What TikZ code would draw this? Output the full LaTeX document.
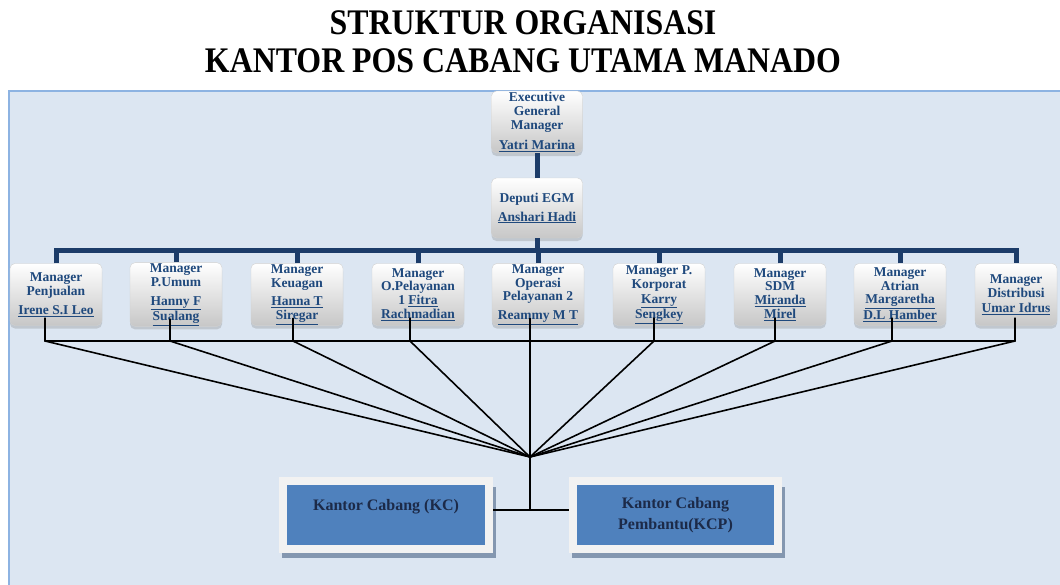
\documentclass[tikz,border=0pt]{standalone}
\usepackage{graphicx}
\usepackage{fontspec}
\setmainfont{Liberation Serif}
\usetikzlibrary{shadows}

\definecolor{panelfill}{RGB}{220,230,242}
\definecolor{panelline}{RGB}{141,179,226}
\definecolor{barnavy}{RGB}{28,60,105}
\definecolor{mgrblue}{RGB}{31,73,125}
\definecolor{kcblue}{RGB}{79,129,189}
\definecolor{kcframe}{RGB}{242,242,242}
\definecolor{kcshadow}{RGB}{132,151,176}
\definecolor{kctext}{RGB}{28,42,72}

\tikzset{
  mgrbox/.style={rounded corners=5pt, draw=black!18, top color=white,
    bottom color=black!22, text=mgrblue, align=center, inner sep=1pt,
    minimum width=92pt, minimum height=62pt,
    font=\bfseries\fontsize{13.5}{13.8}\selectfont,
    drop shadow={shadow xshift=0pt, shadow yshift=-3pt, opacity=0.3}},
  kcbox/.style={fill=kcblue, draw=kcframe, line width=8pt, text=kctext,
    align=center, minimum height=68pt,
    font=\bfseries\fontsize{16}{21}\selectfont,
    drop shadow={shadow xshift=3pt, shadow yshift=-7.5pt, shadow scale=1.04,
      fill=kcshadow, opacity=1}},
  navyline/.style={draw=barnavy, line width=5pt},
  wire/.style={draw=black, line width=1.6pt}
}

\begin{document}
\begin{tikzpicture}[x=1pt,y=-1pt]

  \newcommand\RowY{294.5}
  \newcommand\NameGap{5pt}

  \useasboundingbox (0,0) rectangle (1060,584);

  %% panel
  \fill[panelfill] (9,91) rectangle (1070,590);
  \draw[panelline, line width=1.5pt] (9,590) -- (9,91) -- (1070,91);

  %% title
  \node[anchor=base, font=\bfseries\fontsize{36}{40}\selectfont] (judul)
  at (523,34) {\scalebox{0.885}[1]{STRUKTUR ORGANISASI}};
  \node[anchor=base, font=\bfseries\fontsize{36}{40}\selectfont] (kantor)
  at (523,72) {\scalebox{0.885}[1]{KANTOR POS CABANG UTAMA MANADO}};

  %% top
  \node[mgrbox, minimum width=91pt] (egm) at (537,122)
  {Executive\\General\\Manager\\[6pt]\underline{Yatri Marina}};
  \node[mgrbox, minimum width=91pt, minimum height=60pt] (dep) at (537,208)
  {Deputi EGM\\[\NameGap]\underline{Anshari Hadi}};

  %% managers
  \node[mgrbox] (m1) at (56,\RowY)
  {Manager\\Penjualan\\[\NameGap]\underline{Irene S.I Leo}};
  \node[mgrbox] (m2) at (176,\RowY)
  {Manager\\P.Umum\\[\NameGap]\underline{Hanny F}\\\underline{Sualang}};
  \node[mgrbox] (m3) at (297,\RowY)
  {Manager\\Keuagan\\[\NameGap]\underline{Hanna T}\\\underline{Siregar}};
  \node[mgrbox] (m4) at (418,\RowY)
  {Manager\\O.Pelayanan\\1 \underline{Fitra}\\\underline{Rachmadian}};
  \node[mgrbox] (m5) at (538,\RowY)
  {Manager\\Operasi\\Pelayanan 2\\[\NameGap]\underline{Reammy M T}};
  \node[mgrbox] (m6) at (659,\RowY)
  {Manager P.\\Korporat\\[1pt]\underline{Karry}\\\underline{Sengkey}};
  \node[mgrbox] (m7) at (780,\RowY)
  {Manager\\SDM\\\underline{Miranda}\\\underline{Mirel}};
  \node[mgrbox] (m8) at (900,\RowY)
  {Manager\\Atrian\\\underline{Margaretha}\\\underline{D.L Hamber}};
  \node[mgrbox, minimum width=82pt] (m9) at (1016,\RowY)
  {Manager\\Distribusi\\[1pt]\underline{Umar Idrus}};

  %% navy tree
  \coordinate (bar) at (537,250);
  \draw[navyline] (egm.south) -- (dep.north);
  \draw[navyline] (dep.south) -- (bar);
  \draw[navyline] (m1.north) |- (bar) -| (m9.north);
  \draw[navyline] (m2.north) -- (m2.north |- bar);
  \draw[navyline] (m3.north) -- (m3.north |- bar);
  \draw[navyline] (m4.north) -- (m4.north |- bar);
  \draw[navyline] (m5.north) -- (m5.north |- bar);
  \draw[navyline] (m6.north) -- (m6.north |- bar);
  \draw[navyline] (m7.north) -- (m7.north |- bar);
  \draw[navyline] (m8.north) -- (m8.north |- bar);

  %% offices
  \node[kcbox, minimum width=206pt] (kc) at (386,515)
  {Kantor Cabang (KC)\\\mbox{}};
  \node[kcbox, minimum width=205pt] (kcp) at (675.5,515)
  {Kantor Cabang\\Pembantu(KCP)};

  %% black wires
  \coordinate (hub) at (530,457);
  \coordinate (tee) at (530,510);
  \coordinate (k1) at (45,341);
  \coordinate (k2) at (170,341);
  \coordinate (k3) at (293,341);
  \coordinate (k4) at (410,341);
  \coordinate (k5) at (530,341);
  \coordinate (k6) at (654,341);
  \coordinate (k7) at (775,341);
  \coordinate (k8) at (892,341);
  \coordinate (k9) at (1015,341);

  \draw[wire] (k1) -- (k9);
  \draw[wire] ([yshift=8pt]m1.south -| k1) -- (k1) -- (hub);
  \draw[wire] ([yshift=8pt]m2.south -| k2) -- (k2) -- (hub);
  \draw[wire] ([yshift=8pt]m3.south -| k3) -- (k3) -- (hub);
  \draw[wire] ([yshift=8pt]m4.south -| k4) -- (k4) -- (hub);
  \draw[wire] ([yshift=8pt]m5.south -| k5) -- (k5) -- (hub);
  \draw[wire] ([yshift=8pt]m6.south -| k6) -- (k6) -- (hub);
  \draw[wire] ([yshift=8pt]m7.south -| k7) -- (k7) -- (hub);
  \draw[wire] ([yshift=8pt]m8.south -| k8) -- (k8) -- (hub);
  \draw[wire] ([yshift=8pt]m9.south -| k9) -- (k9) -- (hub);
  \draw[wire] (hub) -- (tee);
  \draw[wire] (kc.east |- tee) -- (kcp.west |- tee);

\end{tikzpicture}
\end{document}
